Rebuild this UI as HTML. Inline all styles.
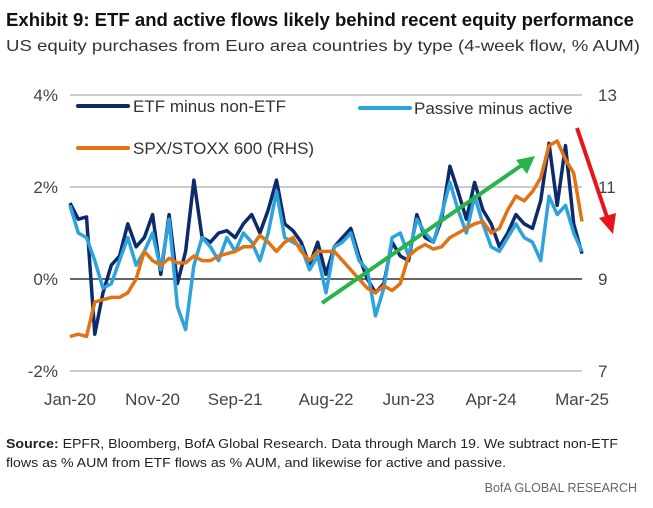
<!DOCTYPE html>
<html><head><meta charset="utf-8">
<style>
body{margin:0;background:#fff;width:653px;height:503px;overflow:hidden;font-family:"Liberation Sans",sans-serif;}
</style></head>
<body>
<svg width="653" height="503" xmlns="http://www.w3.org/2000/svg">
<text x="6" y="26" font-size="18" font-weight="bold" fill="#111" textLength="628" lengthAdjust="spacingAndGlyphs">Exhibit 9: ETF and active flows likely behind recent equity performance</text>
<text x="6" y="51" font-size="16" fill="#333" textLength="634" lengthAdjust="spacingAndGlyphs">US equity purchases from Euro area countries by type (4-week flow, % AUM)</text>
<g id="grid"></g>
<g id="series"></g>
<g id="axes" font-size="17" fill="#444"></g>
<g>
<line x1="78" y1="106" x2="128" y2="106" stroke="#0d2a6b" stroke-width="4" stroke-linecap="round"/>
<text x="133" y="112" font-size="17" fill="#333">ETF minus non-ETF</text>
<line x1="360" y1="108" x2="410" y2="108" stroke="#2ea2dc" stroke-width="4" stroke-linecap="round"/>
<text x="414" y="114" font-size="17" fill="#333">Passive minus active</text>
<line x1="78" y1="148" x2="128" y2="148" stroke="#e07314" stroke-width="4" stroke-linecap="round"/>
<text x="133" y="154" font-size="17" fill="#333">SPX/STOXX 600 (RHS)</text>
</g>
<g>
<line x1="322" y1="303" x2="525" y2="163" stroke="#2ab24b" stroke-width="4"/>
<polygon points="535,156 516,160 527,174" fill="#2ab24b"/>
</g>
<g>
<line x1="577" y1="128" x2="608" y2="220" stroke="#e8141b" stroke-width="4"/>
<polygon points="613,234 599,218 616,213" fill="#e8141b"/>
</g>
<text x="6" y="448" font-size="13" fill="#222" textLength="612" lengthAdjust="spacingAndGlyphs"><tspan font-weight="bold">Source:</tspan> EPFR, Bloomberg, BofA Global Research. Data through March 19. We subtract non-ETF</text>
<text x="6" y="467" font-size="13" fill="#222" textLength="500" lengthAdjust="spacingAndGlyphs">flows as % AUM from ETF flows as % AUM, and likewise for active and passive.</text>
<text x="637" y="492" font-size="12.5" fill="#666" text-anchor="end">BofA GLOBAL RESEARCH</text>
</svg>
<script>
const xLabels=["Jan-20","Nov-20","Sep-21","Aug-22","Jun-23","Apr-24","Mar-25"];
const xLabelMonths=[0,10,20,31,41,51,62];
const leftTicks=[4,2,0,-2];
const rightTicks=[13,11,9,7];
const etfMinusNonEtf=[1.65,1.3,1.35,-1.2,-0.3,0.3,0.5,1.2,0.7,0.9,1.4,0.1,1.4,-0.1,0.6,2.15,0.9,0.8,1.0,1.05,0.9,1.2,1.4,1.0,1.5,2.15,1.2,1.05,0.8,0.3,0.8,0.1,0.7,0.9,1.1,0.5,0.0,-0.3,-0.1,0.8,0.5,0.4,1.4,0.9,0.8,1.3,2.45,1.9,1.3,2.1,1.5,1.2,0.7,1.0,1.4,1.2,1.1,1.7,2.95,1.6,2.9,1.2,0.55];
const passiveMinusActive=[1.6,1.0,0.9,0.4,-0.2,-0.1,0.4,0.9,0.3,0.6,1.0,0.2,1.3,-0.6,-1.1,0.3,0.9,0.7,0.4,0.9,0.6,1.0,0.8,0.4,1.0,1.9,0.9,0.8,0.7,0.2,0.5,-0.3,0.7,0.8,1.0,0.4,0.2,-0.8,-0.2,0.9,1.0,0.5,1.3,1.0,0.8,1.4,2.1,1.5,1.0,1.8,1.2,0.7,0.6,0.9,1.2,0.9,0.8,0.4,1.8,1.4,1.6,1.0,0.6];
const spxStoxx=[7.75,7.8,7.75,8.5,8.55,8.6,8.6,8.7,9.0,9.6,9.4,9.3,9.45,9.35,9.35,9.5,9.4,9.4,9.5,9.55,9.6,9.7,9.7,9.95,9.8,9.6,9.8,9.9,9.6,9.4,9.6,9.6,9.6,9.4,9.2,9.0,8.8,8.7,8.85,8.75,8.9,9.5,9.65,9.75,9.65,9.7,9.9,10.0,10.1,10.2,10.25,10.0,10.1,10.5,10.8,10.7,10.9,11.2,11.9,12.0,11.6,11.3,10.25];

const X0=70,X1=582,NM=62;
const xS=m=>X0+(X1-X0)*m/NM;
const yL=v=>279-v*46;
const yR=v=>279-(v-9)*46;
const NS="http://www.w3.org/2000/svg";
function mk(tag,parent){const e=document.createElementNS(NS,tag);parent.appendChild(e);return e;}
const grid=document.getElementById('grid'),axes=document.getElementById('axes'),ser=document.getElementById('series');
leftTicks.forEach((t,i)=>{
  const l=mk('line',grid);
  
  
  l.setAttribute('x1',X0);l.setAttribute('x2',X1);l.setAttribute('y1',yL(t));l.setAttribute('y2',yL(t));
  l.setAttribute('stroke',t===0?'#333':'#bbb');l.setAttribute('stroke-width',1.5);
  const tx=mk('text',axes);
  
  
  tx.setAttribute('x',58);tx.setAttribute('y',yL(t)+6);tx.setAttribute('text-anchor','end');
  tx.textContent=t+'%';
});
rightTicks.forEach(t=>{
  const tx=mk('text',axes);
  
  
  tx.setAttribute('x',598);tx.setAttribute('y',yR(t)+6);
  tx.textContent=t;
});
xLabels.forEach((s,i)=>{
  const tx=mk('text',axes);
  
  
  tx.setAttribute('x',xS(xLabelMonths[i]));tx.setAttribute('y',405);tx.setAttribute('text-anchor','middle');
  tx.textContent=s;
});
function line(vals,yf,color,name){
  const p=mk('polyline',ser);
  
  
  p.setAttribute('points',vals.map((v,i)=>xS(i).toFixed(1)+','+yf(v).toFixed(1)).join(' '));
  p.setAttribute('fill','none');p.setAttribute('stroke',color);p.setAttribute('stroke-width','3.5');p.setAttribute('stroke-linejoin','round');
}
line(etfMinusNonEtf,yL,'#0d2a6b','etf-minus-non-etf-line');
line(passiveMinusActive,yL,'#2ea2dc','passive-minus-active-line');
line(spxStoxx,yR,'#e07314','spx-stoxx-line');
</script>
</body></html>
